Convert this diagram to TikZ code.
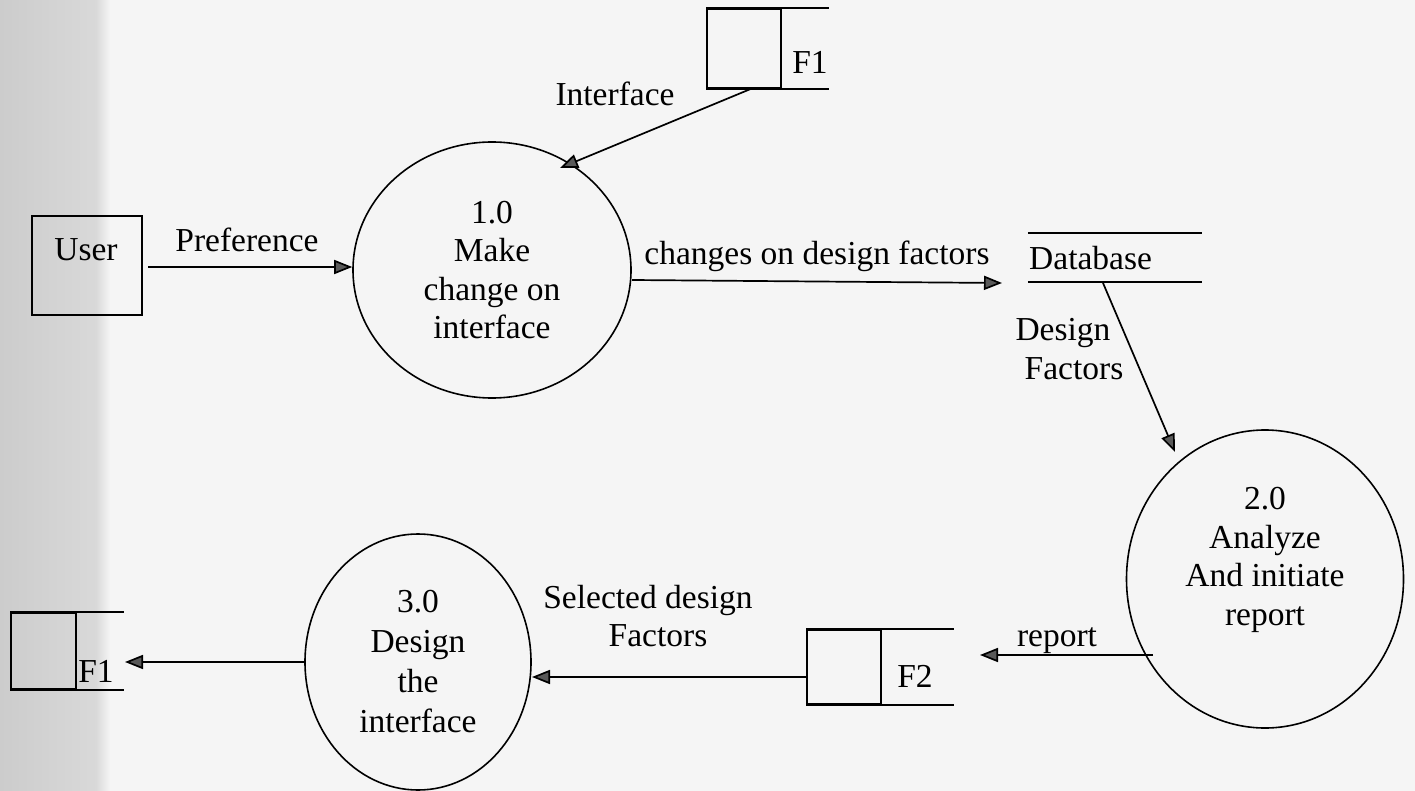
\documentclass[tikz,border=0pt]{standalone}
\usepackage{fontspec}
\setmainfont{Liberation Serif}
\usetikzlibrary{arrows.meta,shapes.geometric}
\begin{document}
\begin{tikzpicture}[x=1pt,y=-1pt,
  every node/.style={font=\fontsize{33.5}{38.5}\selectfont},
  flow/.style={line width=1.7pt,-{Triangle[length=18pt,width=14pt,fill=black!65]}},
  proc/.style={draw,ellipse,line width=1.6pt,inner sep=0pt,align=center},
  box/.style={draw,line width=1.7pt,inner sep=0pt},
  lbl/.style={inner sep=0pt,align=center},
  ln/.style={line width=1.7pt}]
\useasboundingbox (0,0) rectangle (1415,791);
% paper
\fill[black!4] (0,0) rectangle (1415,791);
\shade[left color=black!20,right color=black!15] (0,0) rectangle (96,791);
\shade[left color=black!15,right color=black!4] (96,0) rectangle (110,791);

% external entity
\node[box,minimum width=110pt,minimum height=99pt] (user) at (87,265.5) {};
\node[lbl] (usert) at (86,250) {User};

% processes
\node[proc,minimum width=278pt,minimum height=256pt] (c1) at (492,270)
  {1.0\\Make\\change on\\interface};
\node[proc,minimum width=277pt,minimum height=298pt] (c2) at (1265,579) {};
\node[lbl] (c2t) at (1265,560) {2.0\\Analyze\\And initiate\\report};
\node[proc,minimum width=226pt,minimum height=256pt,font=\fontsize{33.5}{40}\selectfont] (c3) at (418,662)
  {3.0\\Design\\the\\interface};

% data stores
\node[box,minimum width=74pt,minimum height=79pt] (f1t) at (744,48.5) {};
\draw[ln] (f1t.north west) -- ++(123,0);
\draw[ln] (f1t.south west) -- ++(123,0);
\node[lbl] (f1tl) at (810,62) {F1};

\node[minimum width=174pt,minimum height=49pt,inner sep=0pt] (db) at (1115,257.5) {};
\draw[ln] (db.north west) -- (db.north east);
\draw[ln] (db.south west) -- (db.south east);
\node[lbl,anchor=west] (dbt) at (1029,258) {Database};

\node[box,minimum width=74pt,minimum height=74pt] (f2) at (844,667) {};
\draw[ln] (f2.north west) -- ++(148,0);
\draw[ln] (f2.south west) -- ++(148,0);
\node[lbl] (f2l) at (915,676) {F2};

\node[box,minimum width=65pt,minimum height=76pt] (f1b) at (43.5,651) {};
\draw[ln] (f1b.north west) -- ++(114,0);
\draw[ln] (f1b.south west) -- ++(114,0);
\node[lbl] (f1bl) at (96,671) {F1};

% connector end points
\coordinate (pS) at (148,267);
\coordinate (iS) at (753,88);
\coordinate (iE) at (560,168);
\coordinate (cS) at (632,280);
\coordinate (cE) at (1002,283);
\coordinate (dS) at (1103,283);
\coordinate (dE) at (1175,452);
\coordinate (rS) at (1153,655);
\coordinate (rE) at (980,655);
\coordinate (fS) at (807,677);
\coordinate (fE) at (532,677);
\coordinate (bE) at (125,662);

% flows
\draw[flow] (pS) -- (pS -| c1.west);
\draw[flow] (iS) -- (iE);
\draw[flow] (cS) -- (cE);
\draw[flow] (dS) -- (dE);
\draw[flow] (rS) -- (rE);
\draw[flow] (fS) -- (fE);
\draw[flow] (c3.west) -- (bE);

% flow labels
\node[lbl] (lpref) at (247,240) {Preference};
\node[lbl] (lint) at (615,94) {Interface};
\node[lbl] (lchg) at (817,256) {changes on design factors};
\node[lbl] (ldf) at (1063,349) {Design\\\hspace*{22pt}Factors};
\node[lbl] (lrep) at (1057,641) {report};
\node[lbl] (lsel) at (648,616) {Selected design\\\hspace*{20pt}Factors};
\end{tikzpicture}
\end{document}
